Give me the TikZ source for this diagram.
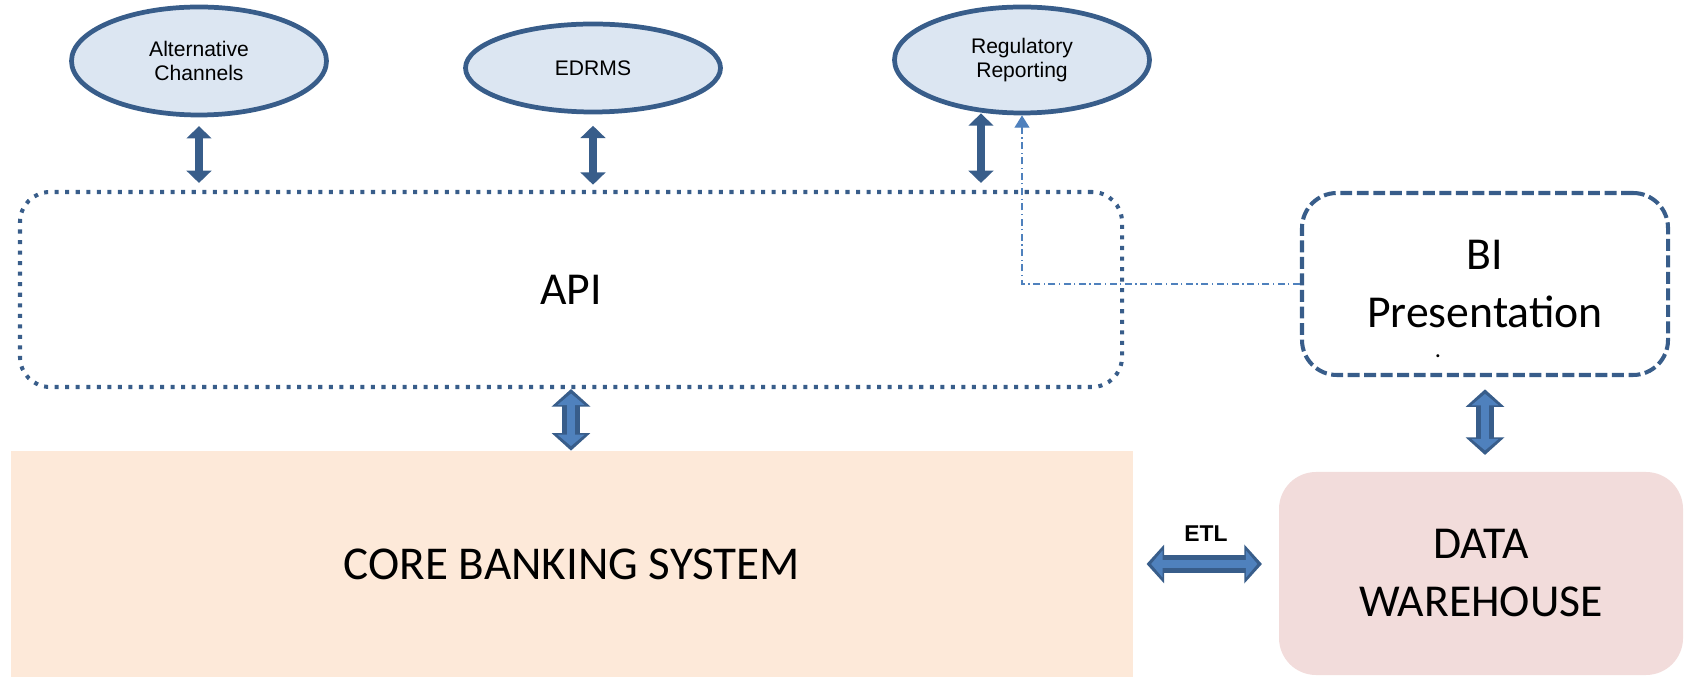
\documentclass[tikz,border=0pt]{standalone}
\usepackage{fontspec}
\setmainfont{Carlito}
\newfontfamily\arialfont{Liberation Sans}
\usetikzlibrary{positioning,calc,arrows.meta,shapes.geometric}
\definecolor{bdr}{HTML}{385D8A}
\definecolor{arrblue}{HTML}{4F81BD}
\definecolor{ellfill}{HTML}{DCE6F2}
\definecolor{corefill}{HTML}{FDE9D9}
\definecolor{dwfill}{HTML}{F2DCDB}
\tikzset{
  app/.style={ellipse, draw=bdr, line width=2.7pt, fill=ellfill, inner sep=0pt,
    minimum width=51mm, align=center, font=\arialfont\fontsize{12}{13.5}\selectfont},
  bigtext/.style={align=center, font=\fontsize{26}{33}\selectfont},
  thinarrow/.style={draw=bdr, line width=4.5pt,
    {Triangle[width=14pt,length=7pt]}-{Triangle[width=14pt,length=7pt]}},
  blkout/.style={draw=bdr, line width=10pt,
    {Triangle[width=21.5pt,length=10pt]}-{Triangle[width=21.5pt,length=10pt]}},
  blkin/.style={draw=arrblue, line width=5pt,
    {Triangle[width=15pt,length=6.5pt]}-{Triangle[width=15pt,length=6.5pt]}}
}
\begin{document}
\begin{tikzpicture}[x=0.2mm,y=-0.2mm]
    \useasboundingbox (0,0) rectangle (1684,677);
    \node (core) [fill=corefill, minimum width=224.4mm, minimum height=45.2mm, bigtext,
        font=\fontsize{26.8}{33}\selectfont] at (572,564) {CORE BANKING SYSTEM};
    \node (dw) [fill=dwfill, rounded corners=7.4mm, minimum width=80.8mm, minimum height=40.6mm, bigtext] at (1481,573.5) {DATA\\WAREHOUSE};
    \node (api) [draw=bdr, line width=2.3pt, dash pattern=on 2.3pt off 3.7pt, rounded corners=6mm,
        minimum width=220.4mm, minimum height=39mm, bigtext] at (571,289.5) {API};
    \node (bi) [draw=bdr, line width=2.3pt, dash pattern=on 6.8pt off 2.6pt, rounded corners=7mm,
        minimum width=73.2mm, minimum height=36.4mm, bigtext] at (1485,284) {BI\\Presentation};
    \node (bidot) [font=\fontsize{14}{14}\selectfont, inner sep=0pt] at (1438,356) {.};
    \node (alt) [app, minimum height=21.6mm] at (199,61) {Alternative\\Channels};
    \node (edrms) [app, minimum height=17.6mm] at (593,68) {EDRMS};
    \node (reg) [app, minimum height=21.2mm] at (1022,60) {Regulatory\\Reporting};
    \draw[thinarrow, shorten <=5pt, shorten >=4pt] (alt.south) -- (alt.south |- api.north);
    \draw[thinarrow, shorten <=6.5pt, shorten >=3pt] (edrms.south) -- (edrms.south |- api.north);
    \draw[thinarrow, shorten <=0.5pt, shorten >=4pt] (reg.232) -- (reg.232 |- api.north);
    \draw[arrblue, line width=0.7pt, dash pattern=on 4pt off 2pt on 0.7pt off 2pt,
        -{Triangle[width=8.5pt,length=7pt]}] (bi.west) -| (reg.south);
    \draw[blkout] (api.south) -- (api.south |- core.north);
    \draw[blkin, shorten <=2.6pt, shorten >=2.6pt] (api.south) -- (api.south |- core.north);
    \draw[blkout, shorten <=7pt, shorten >=9.5pt] (bi.south) -- (bi.south |- dw.north);
    \draw[blkin, shorten <=9.6pt, shorten >=12.1pt] (bi.south) -- (bi.south |- dw.north);
    \draw[blkout, shorten <=7.5pt, shorten >=9.5pt] (core.east) -- (core.east -| dw.west)
        node[midway, above=4.5pt, font=\arialfont\bfseries\fontsize{13}{15}\selectfont] (etl) {ETL};
    \draw[blkin, shorten <=10.1pt, shorten >=12.1pt] (core.east) -- (core.east -| dw.west);
\end{tikzpicture}
\end{document}
